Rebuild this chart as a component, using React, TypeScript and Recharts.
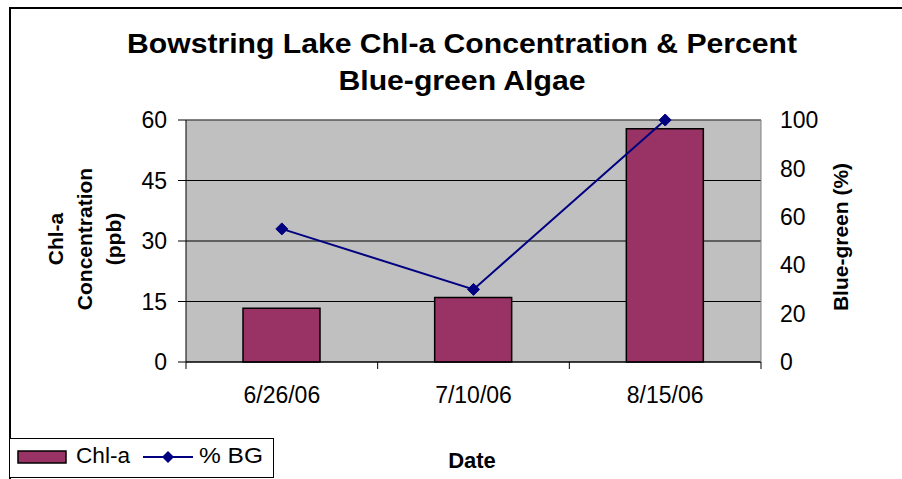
import React from 'react';
import { ComposedChart, Bar, Line, XAxis, YAxis, CartesianGrid } from 'recharts';

const dates = ['6/26/06', '7/10/06', '8/15/06'];
const chla = [13.3, 16, 57.8];
const bluegreen = [55, 30, 100];
const leftTicks = [0, 15, 30, 45, 60];
const rightTicks = [0, 20, 40, 60, 80, 100];

const data = dates.map((d, i) => ({ date: d, chla: chla[i], bg: bluegreen[i] }));

const FONT = '"Liberation Sans", Arial, sans-serif';

const Diamond = (props: any) => {
  const { cx, cy, index } = props;
  if (cx == null || cy == null) return <g key={index} />;
  const s = 6;
  return (
    <path
      key={index}
      d={`M${cx},${cy - s} L${cx + s},${cy} L${cx},${cy + s} L${cx - s},${cy} Z`}
      fill="#000080"
      stroke="#000080"
    />
  );
};

const TICK_SIZE = 7;
const TICK_MARGIN = 18;

const CategoryTick = (props: any) => {
  const { x, y, payload, index, width, visibleTicksCount } = props;
  const half = width / visibleTicksCount / 2;
  const axisY = y - TICK_SIZE - TICK_MARGIN;
  return (
    <g>
      <line x1={x - half} x2={x - half} y1={axisY} y2={axisY + TICK_SIZE} stroke="#000" />
      {index === visibleTicksCount - 1 && (
        <line x1={x + half} x2={x + half} y1={axisY} y2={axisY + TICK_SIZE} stroke="#000" />
      )}
      <text x={x} y={y} dy="0.71em" textAnchor="middle" fontSize={23} fontFamily={FONT} fill="#000">
        {payload.value}
      </text>
    </g>
  );
};

export default function App() {
  return (
    <div style={{ position: 'absolute', left: 0, top: 0, width: 902, height: 479, background: '#fff', fontFamily: FONT }}>
      <ComposedChart
        width={902}
        height={479}
        data={data}
        margin={{ top: 119, right: 81, bottom: 87, left: 126 }}
      >
        <CartesianGrid
          xAxisId="cat"
          yAxisId="left"
          vertical={false}
          stroke="#000"
          fill="#C0C0C0"
          fillOpacity={1}
        />
        <XAxis
          xAxisId="cat"
          dataKey="date"
          height={30}
          axisLine={{ stroke: '#000' }}
          tickLine={false}
          tickSize={TICK_SIZE}
          tickMargin={TICK_MARGIN}
          interval={0}
          tick={CategoryTick}
        />
        <XAxis
          xAxisId="top"
          orientation="top"
          dataKey="date"
          height={1}
          tick={false}
          tickLine={false}
          axisLine={{ stroke: '#808080' }}
        />
        <YAxis
          yAxisId="left"
          domain={[0, 60]}
          ticks={leftTicks}
          width={60}
          tickSize={8}
          tickMargin={11}
          axisLine={{ stroke: '#000' }}
          tickLine={{ stroke: '#000' }}
          tick={{ fill: '#000', fontSize: 23, fontFamily: FONT }}
        />
        <YAxis
          yAxisId="right"
          orientation="right"
          domain={[0, 100]}
          ticks={rightTicks}
          width={60}
          tickSize={0}
          tickMargin={19}
          tickLine={false}
          axisLine={{ stroke: '#808080' }}
          tick={{ fill: '#000', fontSize: 23, fontFamily: FONT, textAnchor: 'start' }}
        />
        <Bar
          xAxisId="cat"
          yAxisId="left"
          dataKey="chla"
          barSize={77}
          fill="#993366"
          stroke="#000"
          strokeWidth={1.5}
          isAnimationActive={false}
        />
        <Line
          xAxisId="cat"
          yAxisId="right"
          dataKey="bg"
          stroke="#000080"
          strokeWidth={2}
          dot={Diamond}
          activeDot={false}
          isAnimationActive={false}
        />
      </ComposedChart>
      <svg
        width={902}
        height={479}
        style={{ position: 'absolute', left: 0, top: 0, pointerEvents: 'none' }}
        fontFamily={FONT}
      >
        <path d="M10,479 L10,8 L902,8" fill="none" stroke="#000" strokeWidth={2} />
        <text x={462} y={53} textAnchor="middle" fontSize={27} fontWeight="bold" textLength={670} lengthAdjust="spacingAndGlyphs">
          Bowstring Lake Chl-a Concentration &amp; Percent
        </text>
        <text x={462} y={90} textAnchor="middle" fontSize={27} fontWeight="bold" textLength={247} lengthAdjust="spacingAndGlyphs">
          Blue-green Algae
        </text>
        <text transform="translate(63,239) rotate(-90)" textAnchor="middle" fontSize={21} fontWeight="bold">Chl-a</text>
        <text transform="translate(92,239) rotate(-90)" textAnchor="middle" fontSize={21} fontWeight="bold">Concentration</text>
        <text transform="translate(121,239) rotate(-90)" textAnchor="middle" fontSize={21} fontWeight="bold">(ppb)</text>
        <text transform="translate(848,237) rotate(-90)" textAnchor="middle" fontSize={21} fontWeight="bold">Blue-green (%)</text>
        <text x={472} y={468} textAnchor="middle" fontSize={22} fontWeight="bold">Date</text>
        <rect x={9.5} y={438.5} width={264} height={39} fill="#fff" stroke="#000" strokeWidth={1} />
        <rect x={18} y={451} width={48} height={12} fill="#993366" stroke="#000" strokeWidth={1.5} />
        <text x={76} y={463} fontSize={22} textLength={54} lengthAdjust="spacingAndGlyphs">Chl-a</text>
        <line x1={143} x2={193} y1={457} y2={457} stroke="#000080" strokeWidth={2} />
        <path d="M168,451 L174,457 L168,463 L162,457 Z" fill="#000080" />
        <text x={199} y={463} fontSize={22} textLength={64} lengthAdjust="spacingAndGlyphs">% BG</text>
      </svg>
    </div>
  );
}
